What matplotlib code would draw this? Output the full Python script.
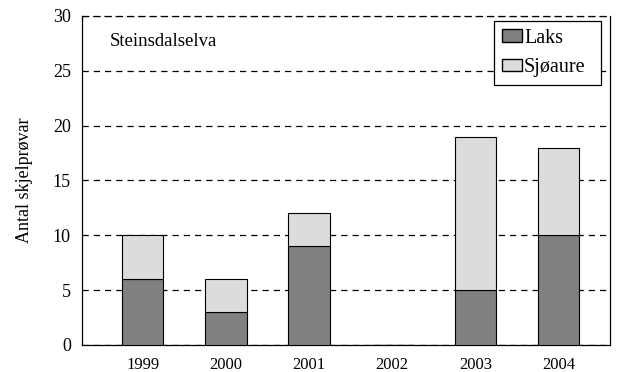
import matplotlib.pyplot as plt
from matplotlib.patches import Patch

years = ["1999", "2000", "2001", "2002", "2003", "2004"]
laks = [6, 3, 9, 0, 5, 10]
sjoaure = [4, 3, 3, 0, 14, 8]

plt.rcParams["font.family"] = ["Liberation Serif", "DejaVu Serif"]

fig = plt.figure(figsize=(6.17, 3.72), dpi=100)
ax = fig.add_axes([0.1329, 0.0726, 0.8558, 0.8844])

x = list(range(len(years)))
ax.bar(x, laks, width=0.5, color="#808080", edgecolor="black", linewidth=0.8, zorder=3)
ax.bar(x, sjoaure, width=0.5, bottom=laks, color="#dcdcdc", edgecolor="black", linewidth=0.8, zorder=3)

ax.set_xlim(-0.73, 5.62)
ax.set_ylim(0, 30)
ax.set_xticks(x)
ax.set_xticklabels(years, fontsize=12)
ax.set_yticks(range(0, 31, 5))
ax.tick_params(axis="y", labelsize=13, length=0, pad=8)
ax.tick_params(axis="x", length=0, pad=9)
ax.yaxis.grid(True, linestyle=(0, (5, 4)), color="black", linewidth=0.9, zorder=0)
ax.spines["top"].set_linestyle((0, (5, 4)))
for s in ax.spines.values():
    s.set_linewidth(0.9)
ax.set_ylabel("Antal skjelprøvar", fontsize=13, labelpad=14)

ax.text(0.053, 0.921, "Steinsdalselva", transform=ax.transAxes, fontsize=13.5, va="center")

# legend box stretched to a fixed width
handles = [Patch(facecolor="#808080", edgecolor="black", label="Laks"),
           Patch(facecolor="#dcdcdc", edgecolor="black", label="Sjøaure")]
leg = ax.legend(handles=handles, loc="upper left", bbox_to_anchor=(0.780, 0.5, 0.2027, 0.485),
                mode="expand", borderaxespad=0,
                fontsize=14.5, frameon=True, fancybox=False, edgecolor="black", framealpha=1,
                handlelength=1.0, handleheight=0.6, handletextpad=0.1, labelspacing=0.5,
                borderpad=0.4)
leg.get_frame().set_linewidth(0.9)

fig.savefig("out.png", dpi=100)
